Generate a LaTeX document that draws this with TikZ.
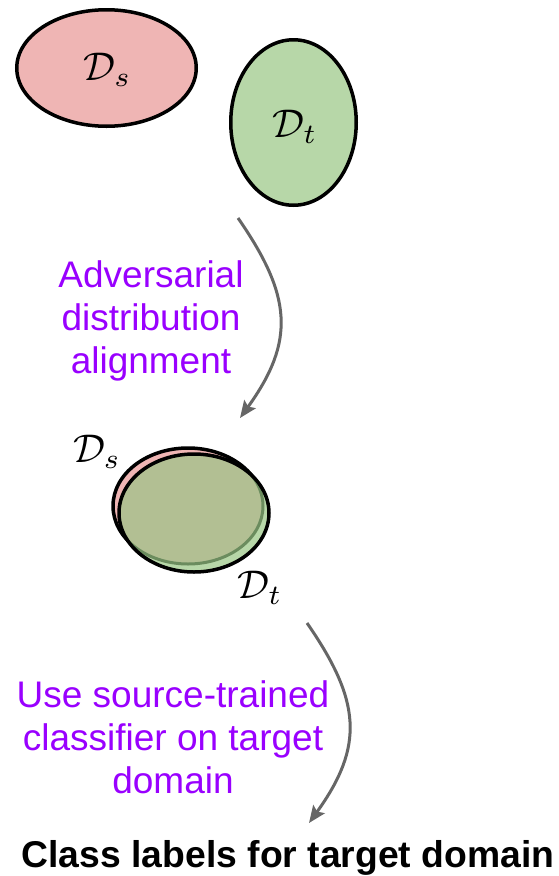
\documentclass[tikz,border=0pt]{standalone}
\usepackage{graphicx}
\usepackage{fontspec}
\setmainfont{Liberation Sans}
\usetikzlibrary{shapes.geometric,arrows.meta,calc}

\definecolor{srcpink}{HTML}{EFB5B4}
\definecolor{tgtgreen}{HTML}{B7D7A8}
\definecolor{mixolive}{HTML}{B2BF93}
\definecolor{edgegreen}{HTML}{6B8C5E}
\definecolor{notepurple}{HTML}{9900FF}
\definecolor{flowgray}{HTML}{666666}

% large calligraphic set symbols
\newcommand{\setsym}[1]{\scalebox{4}{$\mathcal{D}_{#1}$}}

\tikzset{
  setblob/.style={ellipse, draw=black, line width=3.5pt, inner sep=0pt},
  dlabel/.style={inner sep=0pt, anchor=base},
  note/.style={text=notepurple, align=center, font=\fontsize{37}{43}\selectfont,
               inner sep=0pt, anchor=base},
  flow/.style={draw=flowgray, line width=3pt,
               -{Stealth[length=17pt, width=14pt, inset=3pt]}},
  result/.style={font=\fontsize{37.3}{43}\selectfont\bfseries, inner sep=0pt, anchor=base}
}

\begin{document}
\begin{tikzpicture}[x=1pt, y=-1pt]
  \useasboundingbox (0,0) rectangle (558,876);

  % separate source and target domains
  \node[setblob, fill=srcpink, minimum width=179.5pt, minimum height=116.5pt] (src) at (106.5,68) {};
  \node[dlabel] (srclbl) at (107.5,80) {\setsym{s}};
  \node[setblob, fill=tgtgreen, minimum width=125.5pt, minimum height=165.5pt] (tgt) at (293.5,122.5) {};
  \node[dlabel] (tgtlbl) at (295,137) {\setsym{t}};

  % first step
  \coordinate (f1s) at (238,218);
  \coordinate (f1e) at (240,418);
  \draw[flow] (f1s) .. controls ($(f1s)+(54,78)$) and ($(f1e)+(55.5,-77)$) .. (f1e);
  \node[note] (step1) at (151,373) {Adversarial\\distribution\\alignment};

  % aligned domains: source underneath, target on top
  \coordinate (ac) at (188,506);
  \coordinate (bc) at (194,513);
  \fill[srcpink] (ac) ellipse [x radius=75pt, y radius=58pt];
  \draw[line width=3.5pt] (ac) ellipse [x radius=75pt, y radius=58pt];
  \fill[tgtgreen] (bc) ellipse [x radius=75pt, y radius=59pt];
  \begin{scope}
    \clip (bc) ellipse [x radius=75pt, y radius=59pt];
    \fill[mixolive] (ac) ellipse [x radius=75pt, y radius=58pt];
    \draw[edgegreen, line width=3pt] (ac) ellipse [x radius=75pt, y radius=58pt];
  \end{scope}
  \draw[line width=3.5pt] (bc) ellipse [x radius=75pt, y radius=59pt];
  \node[dlabel] (srclbl2) at (97,462) {\setsym{s}};
  \node[dlabel] (tgtlbl2) at (260,598) {\setsym{t}};

  % second step
  \coordinate (f2s) at (307,623);
  \coordinate (f2e) at (309,823);
  \draw[flow] (f2s) .. controls ($(f2s)+(54,78)$) and ($(f2e)+(55.5,-77)$) .. (f2e);
  \node[note] (step2) at (173,793) {Use source-trained\\classifier on target\\domain};

  \node[result] (out) at (288,867) {Class labels for target domain};
\end{tikzpicture}
\end{document}
